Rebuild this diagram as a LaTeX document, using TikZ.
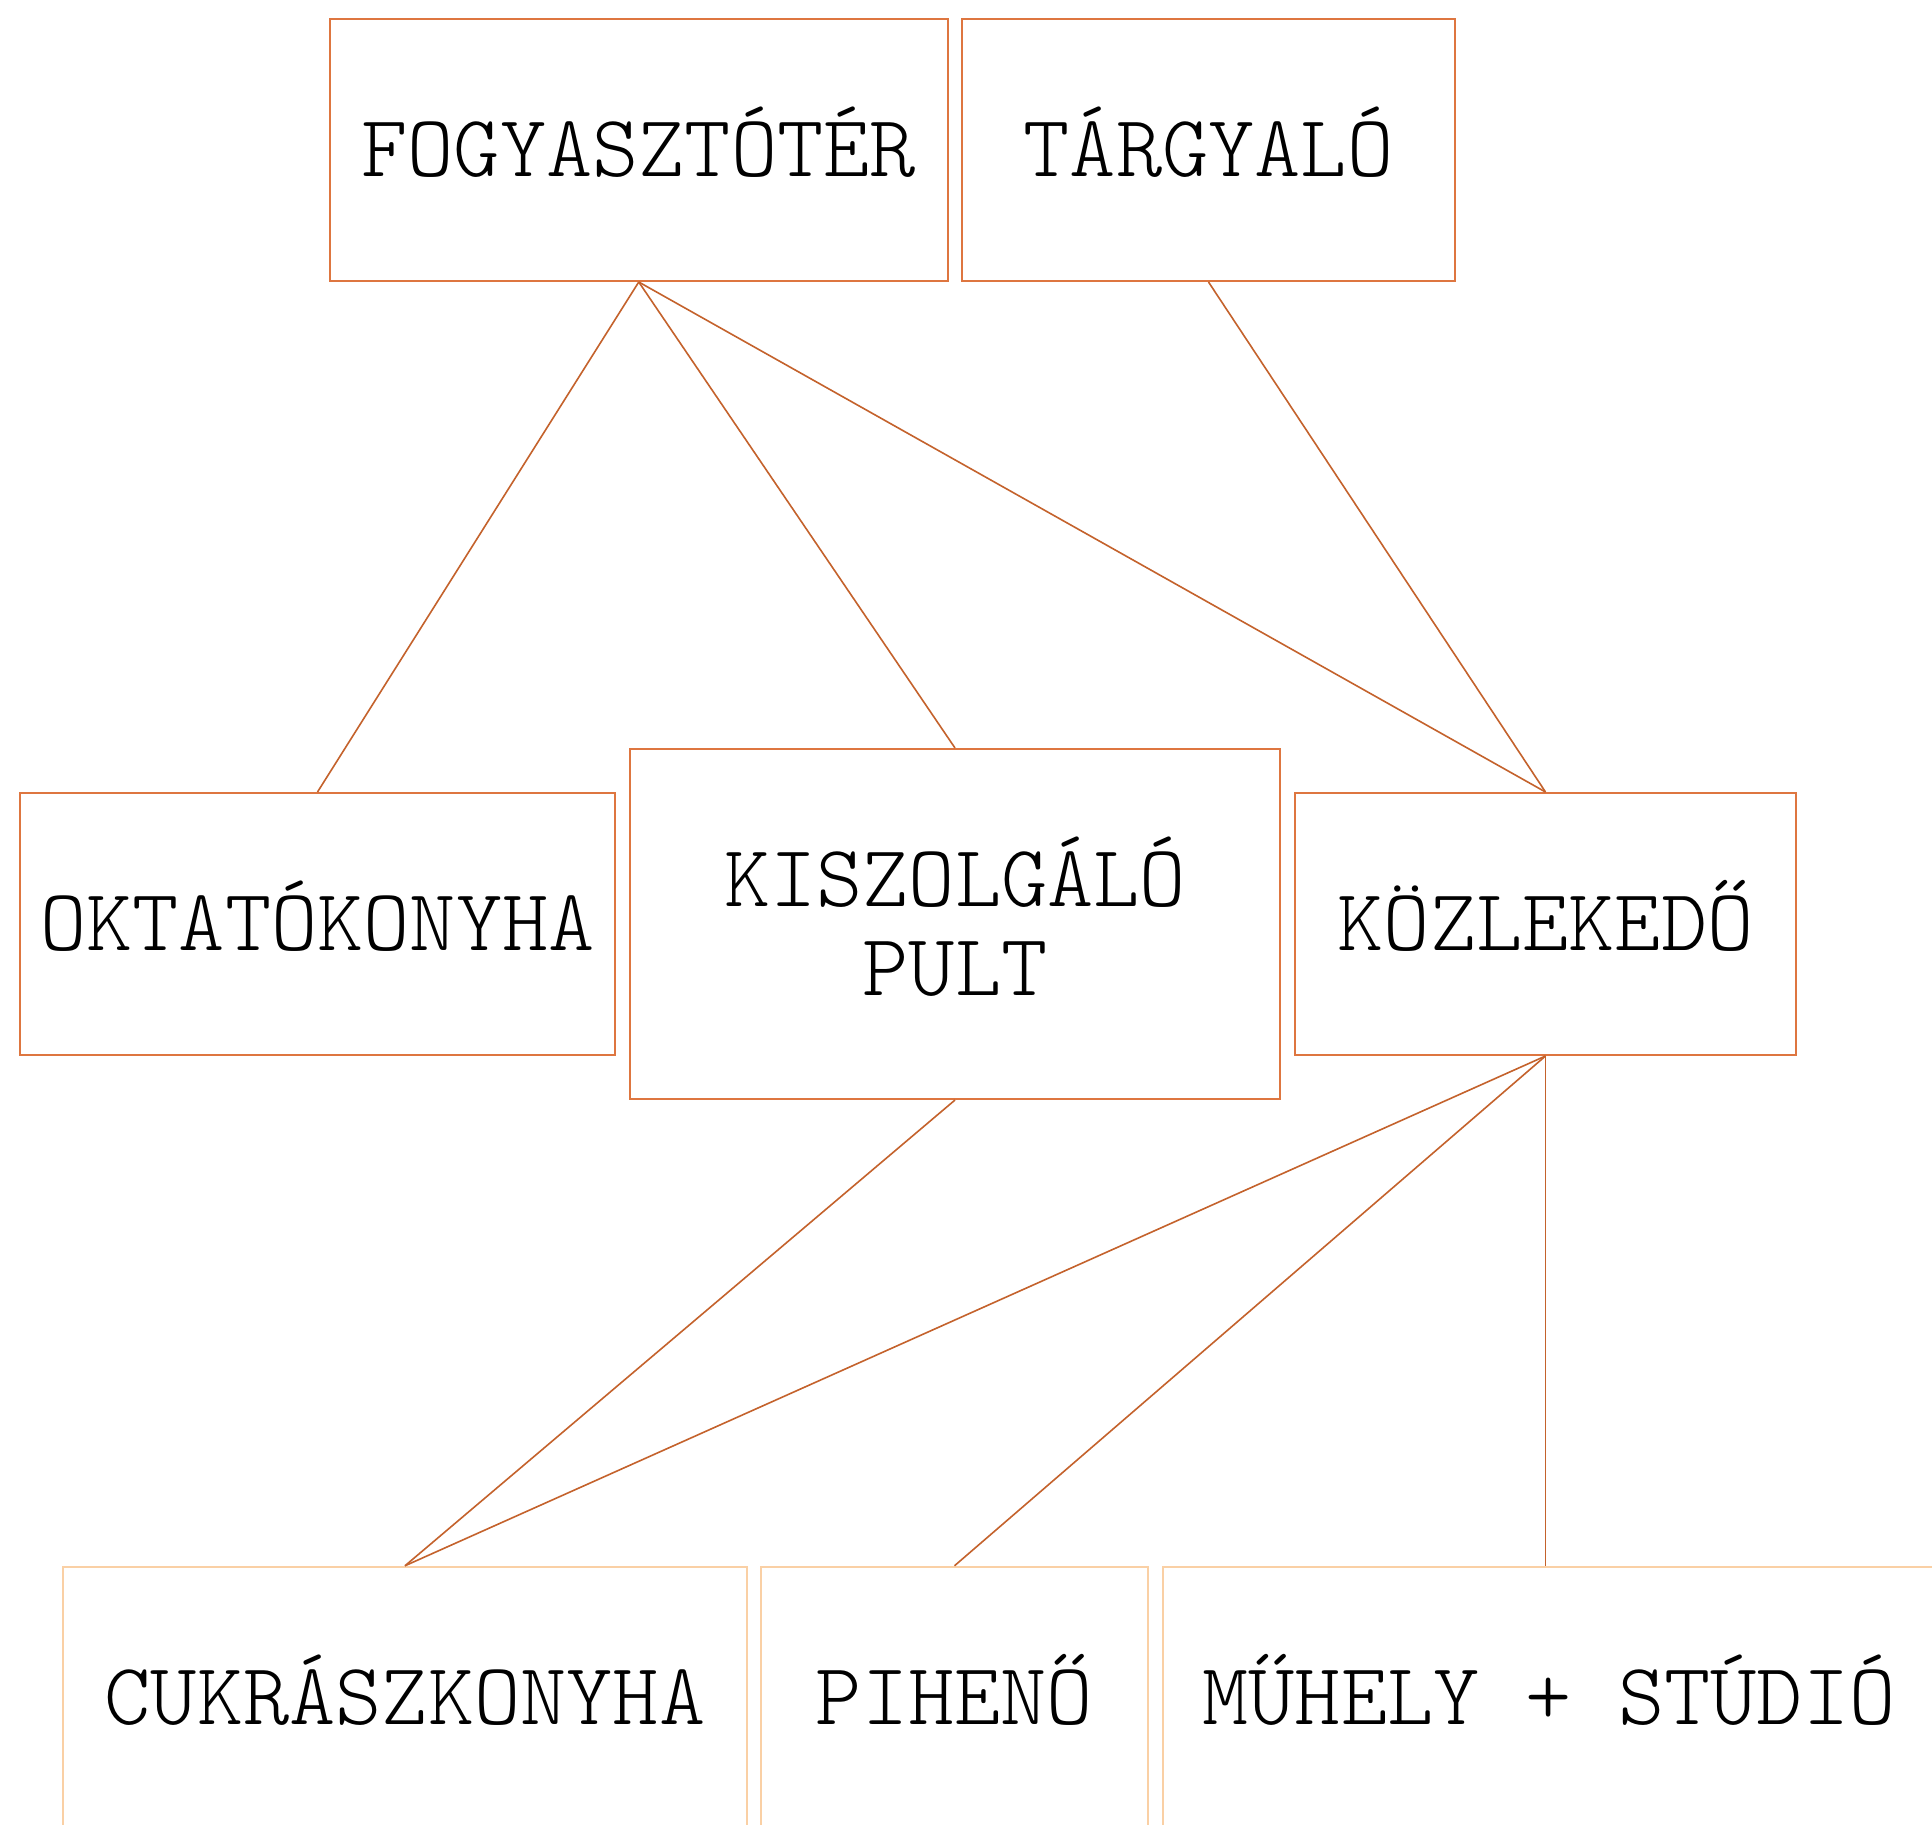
\documentclass[tikz,border=0pt]{standalone}
\usepackage{fontspec}
\setmonofont{lmmonolt10-regular.otf}
\definecolor{boxc}{RGB}{222,118,64}
\definecolor{linec}{RGB}{196,98,44}
\definecolor{peach}{RGB}{250,208,165}
\tikzset{
  room/.style={draw=boxc, line width=2pt, inner sep=0pt, align=center,
    font=\ttfamily\fontsize{88}{89}\selectfont, text=black,
    text height=53pt, text depth=0pt},
  lowroom/.style={room, draw=peach, line width=2.5pt},
  link/.style={draw=linec, line width=1.6pt}
}
\begin{document}
\begin{tikzpicture}[x=1pt,y=-1pt]
\useasboundingbox (0,0) rectangle (1932,1824);
\clip (0,0) rectangle (1932,1824);
\fill[white] (0,0) rectangle (1932,1824);
\node[room, minimum width=617.5pt, minimum height=262.5pt] (fogy) at (638.75,149.75) {FOGYASZTÓTÉR};
\node[room, minimum width=493pt, minimum height=262.5pt] (targy) at (1208.5,149.75) {TÁRGYALÓ};
\node[room, minimum width=595pt, minimum height=262pt] (oktat) at (317.5,924) {OKTATÓKONYHA};
\node[room, minimum width=650pt, minimum height=350pt, text height=142pt] (kiszolg) at (955,924) {KISZOLGÁLÓ\\PULT};
\node[room, minimum width=501pt, minimum height=262pt] (kozl) at (1545.5,924) {KÖZLEKEDŐ};
\node[lowroom, minimum width=684pt, minimum height=262pt] (cukr) at (405,1698) {CUKRÁSZKONYHA};
\node[lowroom, minimum width=387pt, minimum height=262pt] (pih) at (954.5,1698) {PIHENŐ};
\node[lowroom, minimum width=772pt, minimum height=262pt] (muh) at (1549,1698) {MŰHELY + STÚDIÓ};
\coordinate (muhtop) at (kozl.south |- muh.north);
\draw[link] (fogy.south) -- (oktat.north);
\draw[link] (fogy.south) -- (kiszolg.north);
\draw[link] (fogy.south) -- (kozl.north);
\draw[link] (targy.south) -- (kozl.north);
\draw[link] (kiszolg.south) -- (cukr.north);
\draw[link] (kozl.south) -- (cukr.north);
\draw[link] (kozl.south) -- (pih.north);
\draw[link] (kozl.south) -- (muhtop);
\end{tikzpicture}
\end{document}
